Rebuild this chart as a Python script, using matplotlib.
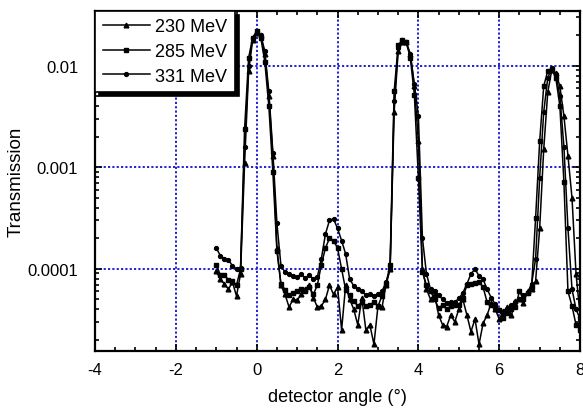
import matplotlib
matplotlib.use("Agg")
import matplotlib.pyplot as plt
from matplotlib.ticker import MultipleLocator, FixedLocator, LogLocator, NullFormatter

plt.rcParams["font.family"] = ["Liberation Sans", "DejaVu Sans"]
plt.rcParams["axes.unicode_minus"] = False

# detector angle (deg)
angle = [
    -1.0, -0.9, -0.8, -0.7, -0.6, -0.5, -0.4, -0.3, -0.2, -0.1,
    0.0, 0.1, 0.2, 0.3, 0.4, 0.5, 0.6, 0.7, 0.8, 0.9,
    1.0, 1.1, 1.2, 1.3, 1.4, 1.5, 1.6, 1.7, 1.8, 1.9,
    2.0, 2.1, 2.2, 2.3, 2.4, 2.5, 2.6, 2.7, 2.8, 2.9,
    3.0, 3.1, 3.2, 3.3, 3.4, 3.5, 3.6, 3.7, 3.8, 3.9,
    4.0, 4.1, 4.2, 4.3, 4.4, 4.5, 4.6, 4.7, 4.8, 4.9,
    5.0, 5.1, 5.2, 5.3, 5.4, 5.5, 5.6, 5.7, 5.8, 5.9,
    6.0, 6.1, 6.2, 6.3, 6.4, 6.5, 6.6, 6.7, 6.8, 6.9,
    7.0, 7.1, 7.2, 7.3, 7.4, 7.5, 7.6, 7.7, 7.8, 7.9,
    8.0,
]

trans_230 = [
    9.5e-5, 7.9e-5, 7.1e-5, 6.3e-5, 7.4e-5, 5.4e-5, 8.9e-5, 1.1e-3, 8.9e-3, 1.8e-2,
    2.1e-2, 2.0e-2, 1.3e-2, 5.0e-3, 1.3e-3, 1.6e-4, 6.9e-5, 5.6e-5, 4.2e-5, 5.0e-5,
    4.9e-5, 5.6e-5, 6.3e-5, 6.9e-5, 5.2e-5, 4.2e-5, 4.3e-5, 5.0e-5, 6.9e-5, 5.6e-5,
    6.6e-5, 2.5e-5, 6.9e-5, 5.0e-5, 4.0e-5, 2.8e-5, 5.2e-5, 2.5e-5, 2.8e-5, 1.8e-5,
    4.3e-5, 4.2e-5, 6.9e-5, 1.0e-4, 3.5e-3, 1.4e-2, 1.7e-2, 1.7e-2, 1.3e-2, 6.3e-3,
    1.8e-3, 1.0e-4, 6.3e-5, 5.0e-5, 5.6e-5, 3.5e-5, 2.8e-5, 2.7e-5, 3.5e-5, 3.0e-5,
    4.0e-5, 5.0e-5, 3.5e-5, 2.4e-5, 3.2e-5, 1.8e-5, 2.9e-5, 3.5e-5, 4.6e-5, 4.0e-5,
    3.2e-5, 3.8e-5, 4.2e-5, 3.5e-5, 4.8e-5, 5.0e-5, 4.6e-5, 6.0e-5, 6.3e-5, 7.6e-5,
    2.5e-4, 1.5e-3, 5.5e-3, 9.1e-3, 8.5e-3, 6.3e-3, 3.2e-3, 1.3e-3, 5.0e-4, 8.9e-5,
    3.5e-5,
]

trans_285 = [
    1.1e-4, 8.7e-5, 8.7e-5, 7.8e-5, 7.6e-5, 6.9e-5, 1.0e-4, 2.4e-3, 1.2e-2, 1.9e-2,
    2.2e-2, 1.9e-2, 1.1e-2, 4.0e-3, 8.9e-4, 1.5e-4, 7.1e-5, 6.2e-5, 5.5e-5, 5.8e-5,
    6.0e-5, 6.3e-5, 6.0e-5, 6.6e-5, 5.6e-5, 6.9e-5, 1.1e-4, 1.6e-4, 2.0e-4, 1.9e-4,
    1.6e-4, 1.0e-4, 6.2e-5, 5.5e-5, 4.8e-5, 4.3e-5, 4.7e-5, 4.3e-5, 4.4e-5, 4.7e-5,
    4.3e-5, 5.4e-5, 7.1e-5, 1.1e-4, 5.6e-3, 1.6e-2, 1.8e-2, 1.7e-2, 1.2e-2, 5.2e-3,
    7.9e-4, 9.3e-5, 6.9e-5, 6.0e-5, 5.0e-5, 4.1e-5, 4.4e-5, 4.0e-5, 4.3e-5, 4.4e-5,
    4.4e-5, 5.2e-5, 6.9e-5, 7.1e-5, 7.2e-5, 7.4e-5, 6.6e-5, 4.7e-5, 4.4e-5, 4.2e-5,
    3.9e-5, 3.3e-5, 3.7e-5, 4.0e-5, 4.2e-5, 6.0e-5, 5.0e-5, 5.8e-5, 6.6e-5, 3.2e-4,
    1.8e-3, 6.3e-3, 8.9e-3, 9.3e-3, 7.6e-3, 4.0e-3, 7.1e-4, 6.0e-5, 4.3e-5, 2.8e-5,
    2.5e-5,
]

trans_331 = [
    1.6e-4, 1.35e-4, 1.26e-4, 1.23e-4, 1.07e-4, 1.0e-4, 1.02e-4, 1.6e-3, 1.0e-2, 1.9e-2,
    2.1e-2, 2.0e-2, 1.4e-2, 5.6e-3, 1.4e-3, 2.8e-4, 1.07e-4, 9.3e-5, 8.9e-5, 8.5e-5,
    8.3e-5, 8.9e-5, 8.1e-5, 8.7e-5, 7.9e-5, 8.3e-5, 1.26e-4, 2.2e-4, 3.0e-4, 3.1e-4,
    2.5e-4, 1.9e-4, 1.4e-4, 7.9e-5, 6.8e-5, 6.3e-5, 6.0e-5, 5.5e-5, 5.6e-5, 5.4e-5,
    5.6e-5, 6.0e-5, 7.4e-5, 1.0e-4, 4.5e-3, 1.5e-2, 1.8e-2, 1.7e-2, 1.3e-2, 6.6e-3,
    3.2e-3, 2.0e-4, 8.9e-5, 6.3e-5, 6.0e-5, 5.5e-5, 5.0e-5, 4.6e-5, 4.7e-5, 4.7e-5,
    5.1e-5, 5.8e-5, 7.1e-5, 8.9e-5, 1.0e-4, 8.5e-5, 7.9e-5, 6.3e-5, 5.2e-5, 4.5e-5,
    3.9e-5, 3.5e-5, 4.0e-5, 4.4e-5, 4.7e-5, 5.0e-5, 5.5e-5, 5.8e-5, 7.1e-5, 1.26e-4,
    7.9e-4, 3.5e-3, 7.6e-3, 9.5e-3, 8.3e-3, 5.0e-3, 1.6e-3, 2.5e-4, 6.3e-5, 4.0e-5,
    3.2e-5,
]

labels = ["230 MeV", "285 MeV", "331 MeV"]
y_ticks = [1e-4, 1e-3, 1e-2]
y_tick_labels = ["0.0001", "0.001", "0.01"]

fig = plt.figure(figsize=(5.83, 4.10), dpi=100)
ax = fig.add_axes([0.163, 0.1415, 0.832, 0.8295])

ax.plot(angle, trans_230, color="black", lw=1.1, marker="^", ms=3.4, label=labels[0], zorder=3)
ax.plot(angle, trans_285, color="black", lw=1.1, marker="s", ms=3.4, label=labels[1], zorder=3)
ax.plot(angle, trans_331, color="black", lw=1.1, marker="o", ms=2.8, label=labels[2], zorder=3)

ax.set_yscale("log")
ax.set_xlim(-4, 8)
ax.set_ylim(1.55e-5, 0.0348)

ax.xaxis.set_major_locator(MultipleLocator(2))
ax.xaxis.set_minor_locator(MultipleLocator(0.5))
ax.yaxis.set_major_locator(FixedLocator(y_ticks))
ax.set_yticklabels(y_tick_labels)
ax.yaxis.set_minor_locator(LogLocator(base=10, subs=range(2, 10)))
ax.yaxis.set_minor_formatter(NullFormatter())

ax.tick_params(which="both", direction="in", top=True, right=True, width=1.2, labelsize=12)
ax.tick_params(which="major", length=5)
ax.tick_params(which="minor", length=3)
ax.tick_params(axis="y", pad=12)
ax.tick_params(axis="x", pad=8)

for s in ax.spines.values():
    s.set_linewidth(1.6)

# blue dotted grid, only inner lines
for gx in [-2, 0, 2, 4, 6]:
    ax.axvline(gx, color="#1010d0", ls=(0, (1.2, 1.2)), lw=1.3, zorder=1)
for gy in y_ticks:
    ax.axhline(gy, color="#1010d0", ls=(0, (1.2, 1.2)), lw=1.3, zorder=1)

ax.set_xlabel("detector angle (°)", fontsize=13, labelpad=8)
ax.set_ylabel("Transmission", fontsize=13.5, labelpad=2)

leg = ax.legend(loc="upper left", bbox_to_anchor=(0, 1), borderaxespad=0, fontsize=13,
                fancybox=False, numpoints=1, handlelength=2.6, handletextpad=0.3,
                labelspacing=0.42, borderpad=0.42, framealpha=1,
                shadow={"ox": 3, "oy": -3, "color": "black", "alpha": 1})
leg.get_frame().set_edgecolor("black")
leg.get_frame().set_linewidth(1.2)
leg.set_zorder(5)

fig.savefig("out.png", dpi=100)
